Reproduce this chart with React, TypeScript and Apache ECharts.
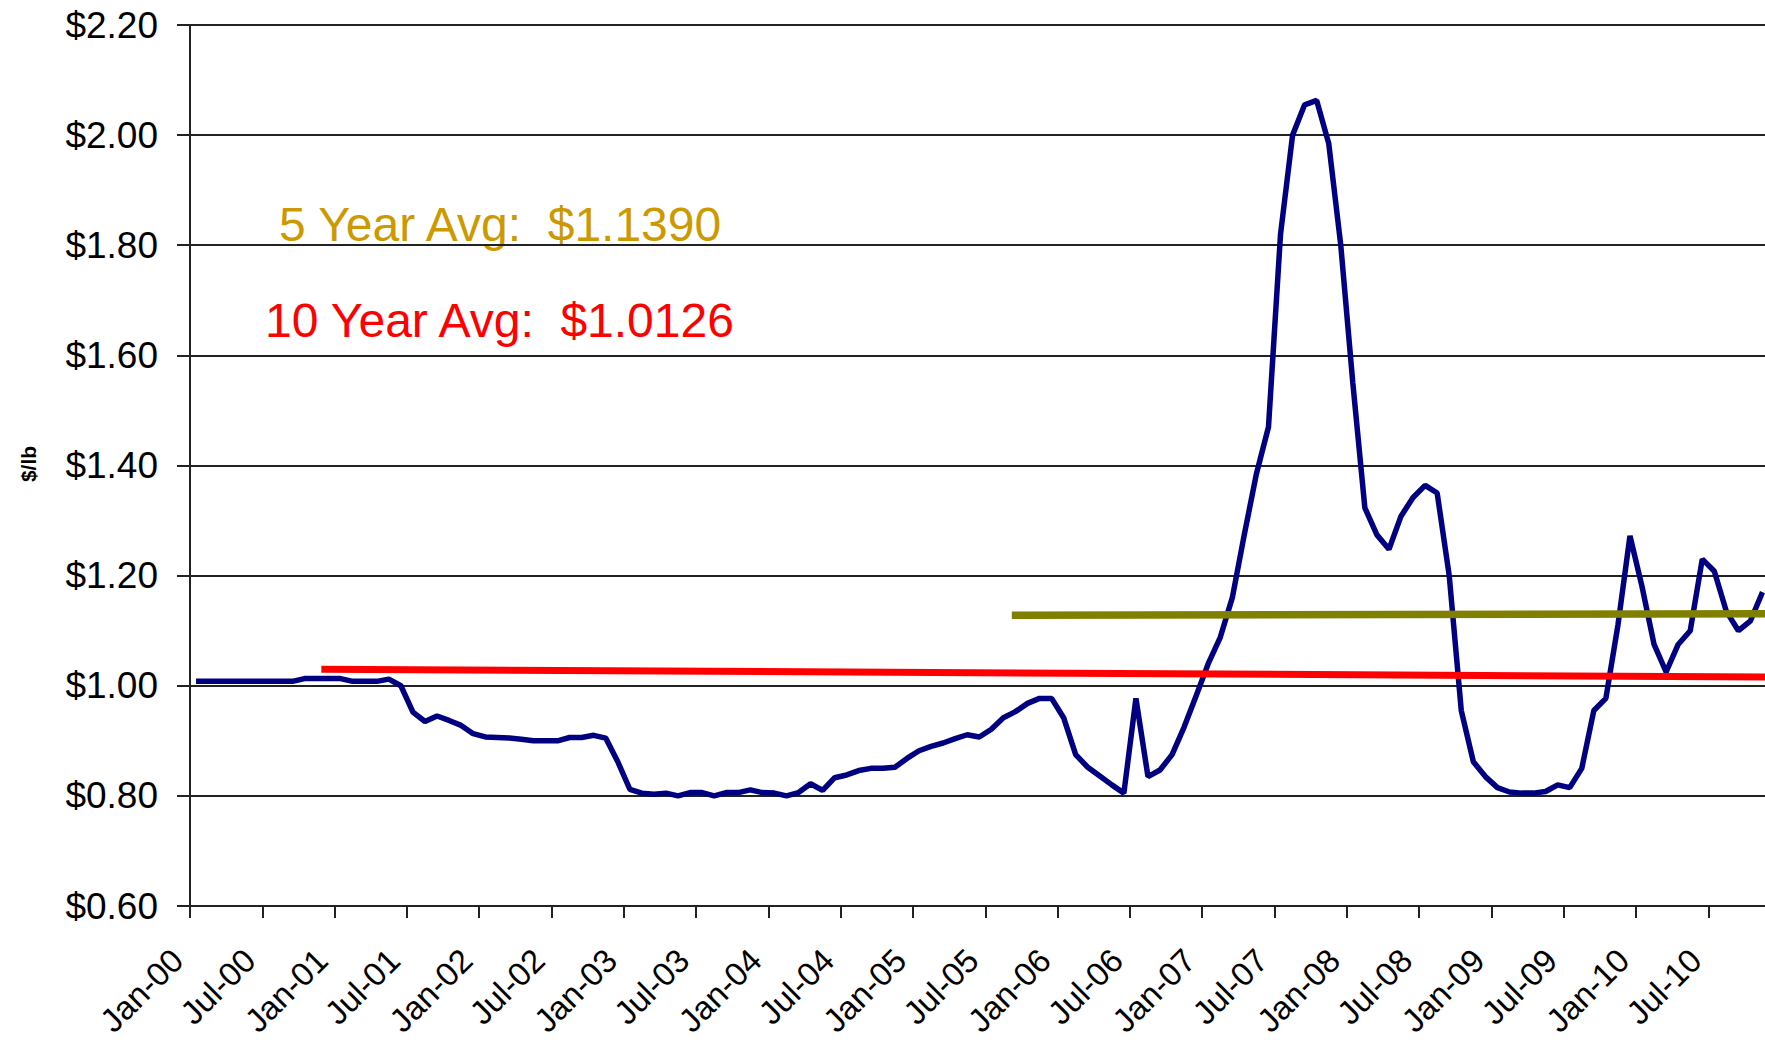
import React, { useEffect, useRef } from "react";
import * as echarts from "echarts";

// Monthly price, Jan-00 .. Nov-10 ($/lb)
const priceValues: number[] = [
  1.008, 1.008, 1.008, 1.008, 1.008, 1.008, 1.008, 1.008, 1.008, 1.013, 1.013, 1.013,
  1.013, 1.008, 1.008, 1.008, 1.012, 1.0, 0.952, 0.935, 0.945, 0.937, 0.928, 0.913,
  0.907, 0.906, 0.905, 0.903, 0.9, 0.9, 0.9, 0.906, 0.906, 0.91, 0.905, 0.862,
  0.812, 0.805, 0.803, 0.805, 0.8, 0.806, 0.806, 0.8, 0.806, 0.806, 0.811, 0.806,
  0.805, 0.8, 0.806, 0.822, 0.81, 0.833, 0.838, 0.846, 0.85, 0.85, 0.852, 0.868,
  0.882, 0.89, 0.896, 0.904, 0.911, 0.907, 0.921, 0.942, 0.953, 0.968, 0.977, 0.977,
  0.942, 0.875, 0.852, 0.836, 0.82, 0.805, 0.977, 0.835, 0.847, 0.875, 0.925, 0.982,
  1.04, 1.088, 1.16, 1.275, 1.385, 1.47, 1.82, 2.0, 2.055, 2.063, 1.985, 1.8,
  1.55, 1.323, 1.274, 1.248, 1.308, 1.342, 1.364, 1.35, 1.2, 0.955, 0.862, 0.835,
  0.815, 0.807, 0.805, 0.805, 0.808, 0.82, 0.815, 0.85, 0.955, 0.977, 1.11, 1.272,
  1.18, 1.075, 1.025, 1.075, 1.1, 1.23, 1.208, 1.135, 1.1, 1.118, 1.17,
];

const tickLabels: string[] = [
  "Jan-00", "Jul-00", "Jan-01", "Jul-01", "Jan-02", "Jul-02", "Jan-03", "Jul-03",
  "Jan-04", "Jul-04", "Jan-05", "Jul-05", "Jan-06", "Jul-06", "Jan-07", "Jul-07",
  "Jan-08", "Jul-08", "Jan-09", "Jul-09", "Jan-10", "Jul-10",
];

// Average lines: [month position, value]
const tenYearAvgLine: [number, number][] = [
  [10.9, 1.03],
  [131, 1.016],
];
const fiveYearAvgLine: [number, number][] = [
  [68.2, 1.128],
  [131, 1.131],
];

const fiveYearText = "5 Year Avg:  $1.1390";
const tenYearText = "10 Year Avg:  $1.0126";

const FONT = '"Liberation Sans", Arial, sans-serif';

export default function App() {
  const ref = useRef<HTMLDivElement>(null);

  useEffect(() => {
    if (!ref.current) return;
    const chart = echarts.init(ref.current, null, { renderer: "svg" });
    const monthWidth = 12.05;
    const totalMonths = 131;

    chart.setOption({
      animation: false,
      backgroundColor: "#ffffff",
      grid: {
        left: 190,
        top: 25,
        width: monthWidth * totalMonths,
        height: 881,
        containLabel: false,
        outerBoundsMode: "none",
      },
      xAxis: {
        type: "value",
        min: 0,
        max: totalMonths,
        interval: 6,
        axisLine: { show: true, lineStyle: { color: "#222222", width: 2 } },
        axisTick: { show: true, length: 12, lineStyle: { color: "#222222", width: 2 } },
        splitLine: { show: false },
        axisLabel: {
          rotate: 45,
          margin: 36,
          padding: [0, 18, 0, 0],
          showMaxLabel: false,
          fontFamily: FONT,
          fontSize: 33,
          color: "#000000",
          formatter: (v: number) => {
            const k = Math.round(v / 6);
            return Math.abs(v - k * 6) < 1e-6 && tickLabels[k] ? tickLabels[k] : "";
          },
        },
      },
      yAxis: {
        type: "value",
        min: 0.6,
        max: 2.2,
        interval: 0.2,
        axisLine: { show: true, lineStyle: { color: "#222222", width: 2 } },
        axisTick: { show: true, length: 13, lineStyle: { color: "#222222", width: 2 } },
        splitLine: { show: true, lineStyle: { color: "#222222", width: 2 } },
        axisLabel: {
          margin: 32,
          fontFamily: FONT,
          fontSize: 37,
          color: "#000000",
          formatter: (v: number) => "$" + v.toFixed(2),
        },
      },
      series: [
        {
          type: "line",
          name: "Price",
          data: priceValues.map((v, i) => [i + 0.5, v]),
          showSymbol: false,
          symbol: "none",
          lineStyle: { color: "#000080", width: 5.5 },
          z: 2,
        },
        {
          type: "line",
          name: "10 Year Avg",
          data: tenYearAvgLine,
          showSymbol: false,
          symbol: "none",
          lineStyle: { color: "#ff0000", width: 7 },
          z: 3,
        },
        {
          type: "line",
          name: "5 Year Avg",
          data: fiveYearAvgLine,
          showSymbol: false,
          symbol: "none",
          lineStyle: { color: "#808000", width: 7.5 },
          z: 4,
        },
      ],
      graphic: [
        {
          type: "text",
          x: 279,
          y: 224,
          style: {
            text: fiveYearText,
            fill: "#cc9900",
            font: `48px ${FONT}`,
            textAlign: "left",
            textVerticalAlign: "middle",
          },
        },
        {
          type: "text",
          x: 265,
          y: 320,
          style: {
            text: tenYearText,
            fill: "#ff0000",
            font: `48px ${FONT}`,
            textAlign: "left",
            textVerticalAlign: "middle",
          },
        },
        {
          type: "text",
          x: 28,
          y: 464,
          rotation: Math.PI / 2,
          style: {
            text: "$/lb",
            fill: "#000000",
            font: `bold 21px ${FONT}`,
            textAlign: "center",
            textVerticalAlign: "middle",
          },
        },
      ],
    });

    return () => chart.dispose();
  }, []);

  return (
    <div
      style={{
        position: "fixed",
        left: 0,
        top: 0,
        width: 1765,
        height: 1047,
        overflow: "hidden",
        background: "#ffffff",
      }}
    >
      <div ref={ref} style={{ width: 1790, height: 1047 }} />
    </div>
  );
}
